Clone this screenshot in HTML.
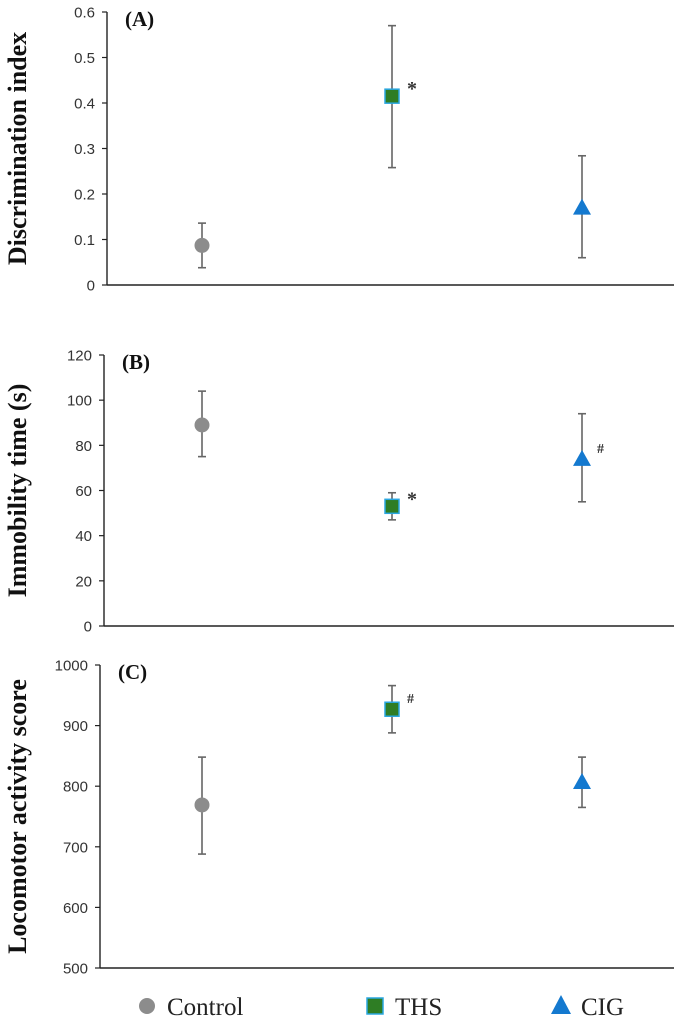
<!DOCTYPE html>
<html><head><meta charset="utf-8"><style>
html,body{margin:0;padding:0;background:#fff;}
svg{display:block;}
</style></head><body>
<svg id="chart" width="678" height="1025" xmlns="http://www.w3.org/2000/svg"></svg>
<script>
const groups = ["Control","THS","CIG"];
const meansA = [0.087,0.415,0.170];
const lowA = [0.038,0.258,0.060];
const highA = [0.136,0.570,0.284];
const ticksA = ["0","0.1","0.2","0.3","0.4","0.5","0.6"];
const meansB = [89,53,74];
const lowB = [75,47,55];
const highB = [104,59,94];
const ticksB = ["0","20","40","60","80","100","120"];
const meansC = [769,927,807];
const lowC = [688,888,765];
const highC = [848,966,848];
const ticksC = ["500","600","700","800","900","1000"];
const marksA = ["","*",""];
const marksB = ["","*","#"];
const marksC = ["","#",""];

const NS="http://www.w3.org/2000/svg";
const svg=document.getElementById('chart');
function mk(tag,attrs,parent){const e=document.createElementNS(NS,tag);for(const k in attrs)e.setAttribute(k,attrs[k]);(parent||svg).appendChild(e);return e;}
const xPos=i=>202+i*190;

function panel(id,title,label,ticks,means,low,high,marks,top,bottom,axisX){
  const g=mk('g',{});
  
  
  const tmin=parseFloat(ticks[0]),tmax=parseFloat(ticks[ticks.length-1]);
  const y=v=>bottom-(v-tmin)/(tmax-tmin)*(bottom-top);
  const ax=mk('line',{x1:axisX,y1:top,x2:axisX,y2:bottom,stroke:'#222','stroke-width':1.4},g);
  
  
  const xa=mk('line',{x1:axisX,y1:bottom,x2:674,y2:bottom,stroke:'#222','stroke-width':1.4},g);
  
  
  ticks.forEach(t=>{
    const ty=y(parseFloat(t));
    mk('line',{x1:axisX-5,y1:ty,x2:axisX,y2:ty,stroke:'#222','stroke-width':1.2},g);
    const tx=mk('text',{x:axisX-12,y:ty+5.5,'text-anchor':'end','font-family':'Liberation Sans, sans-serif','font-size':15,fill:'#333'},g);
    tx.textContent=t;
    
    
  });
  const midY=(top+bottom)/2;
  const yl=mk('text',{x:0,y:0,transform:`translate(26,${midY}) rotate(-90)`,'text-anchor':'middle','font-family':'Liberation Serif, serif','font-size':26,'font-weight':'bold',fill:'#111'},g);
  yl.textContent=label;
  
  
  const tl=mk('text',{x:axisX+18,y:top+14,'font-family':'Liberation Serif, serif','font-size':21,'font-weight':'bold',fill:'#111'},g);
  tl.textContent=title;
  
  
  groups.forEach((gname,i)=>{
    const x=xPos(i);
    const eb=mk('g',{stroke:'#666','stroke-width':1.6},g);
    
    
    mk('line',{x1:x,y1:y(low[i]),x2:x,y2:y(high[i])},eb);
    mk('line',{x1:x-4,y1:y(low[i]),x2:x+4,y2:y(low[i])},eb);
    mk('line',{x1:x-4,y1:y(high[i]),x2:x+4,y2:y(high[i])},eb);
    const my=y(means[i]);
    let m;
    if(i===0) m=mk('circle',{cx:x,cy:my,r:7.5,fill:'#8c8c8c'},g);
    else if(i===1) m=mk('rect',{x:x-7,y:my-7,width:14,height:14,fill:'#2e7d24',stroke:'#2aa7e0','stroke-width':1.5},g);
    else m=mk('polygon',{points:`${x},${my-9} ${x+9},${my+7} ${x-9},${my+7}`,fill:'#1479cf'},g);
    
    
    if(marks[i]){
      const s=mk('text',{x:x+15,y:my-(marks[i]==='*'?1:6),'font-family':'Liberation Serif, serif','font-size':marks[i]==='*'?20:14,'font-weight':'bold',fill:'#333'},g);
      s.textContent=marks[i];
      
      
    }
  });
}
panel('a','(A)','Discrimination index',ticksA,meansA,lowA,highA,marksA,12,285,107);
panel('b','(B)','Immobility time (s)',ticksB,meansB,lowB,highB,marksB,355,626,104);
panel('c','(C)','Locomotor activity score',ticksC,meansC,lowC,highC,marksC,665,968,100);

const lg=mk('g',{});


const ly=1012;
const items=[[147,'Control'],[375,'THS'],[561,'CIG']];
items.forEach((it,i)=>{
  const x=it[0];let m;
  if(i===0) m=mk('circle',{cx:x,cy:ly-6,r:8,fill:'#8c8c8c'},lg);
  else if(i===1) m=mk('rect',{x:x-8,y:ly-14,width:16,height:16,fill:'#2e7d24',stroke:'#2aa7e0','stroke-width':1.5},lg);
  else m=mk('polygon',{points:`${x},${ly-17} ${x+10},${ly+2} ${x-10},${ly+2}`,fill:'#1479cf'},lg);
  
  
  const t=mk('text',{x:x+20,y:ly+3,'font-family':'Liberation Serif, serif','font-size':25,fill:'#222'},lg);
  t.textContent=it[1];
  
  
});
</script>
</body></html>
